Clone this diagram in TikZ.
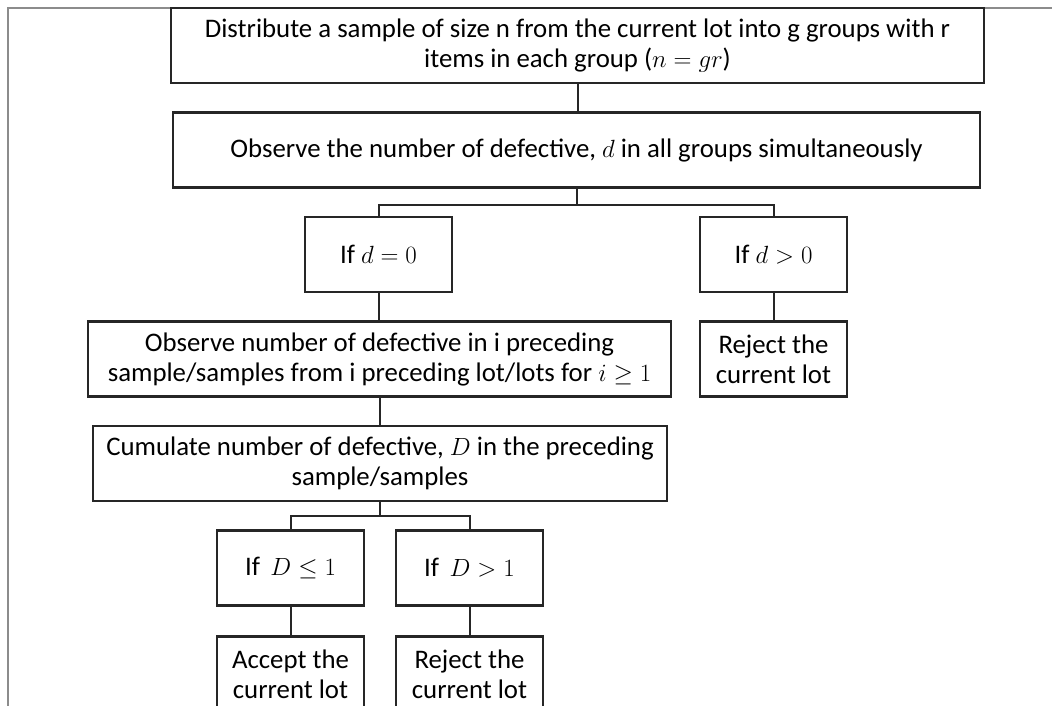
\documentclass[tikz,border=0pt]{standalone}
\usepackage{amsmath}
\usepackage{fontspec}
\setmainfont{Carlito}
\usetikzlibrary{positioning,calc}

\begin{document}
\begin{tikzpicture}[x=1pt, y=-1pt,
                every node/.append style={font=\fontsize{26.8}{30}\selectfont},
                box/.style={draw=black!85, line width=2.3pt, fill=white, align=center,
                    inner sep=0pt, minimum height=75pt},
                small box/.style={box, minimum width=147pt}]
                \clip (0,0) rectangle (1052,706);
                \draw [black!45, line width=2pt] (8,706) -- (8,8) -- (1052,8);
                \node [box, minimum width=813pt] (distribute) at (577.5,45.5)
                    {Distribute a sample of size n from the current lot into g groups with r\\
                     items in each group ($n = gr$)};
                \node [box, minimum width=807pt] (observe) at (576.5,150)
                    {Observe the number of defective, $d$ in all groups simultaneously};
                \node [small box] (dzero) at (378.5,254.5) {If $d = 0$};
                \node [small box] (dpos) at (773.5,254.5) {If $d > 0$};
                \node [box, minimum width=583pt] (preceding) at (379.5,359)
                    {Observe number of defective in i preceding\\
                     sample/samples from i preceding lot/lots for $i \geq 1$};
                \node [small box] (rejectu) at (773.5,359) {Reject the\\current lot};
                \node [box, minimum width=574pt] (cumulate) at (380,463.5)
                    {Cumulate number of defective, $D$ in the preceding\\sample/samples};
                \node [small box] (dle) at (290.5,568) {If \,$D \leq 1$};
                \node [small box] (dgt) at (469.5,568) {If \,$D > 1$};
                \node [small box] (accept) at (290.5,674) {Accept the\\current lot};
                \node [small box] (rejectd) at (469.5,674) {Reject the\\current lot};
                \begin{scope}[black!85, line width=2pt]
                \draw (distribute.south) -- (distribute.south |- observe.north);
                \draw (observe.south) -- ++(0,16) coordinate (forkd);
                \draw (forkd) -| (dzero.north);
                \draw (forkd) -| (dpos.north);
                \draw (dzero.south) -- (dzero.south |- preceding.north);
                \draw (dpos.south) -- (rejectu.north);
                \draw (preceding.south) -- (preceding.south |- cumulate.north);
                \draw (cumulate.south) -- ++(0,14) coordinate (forkD);
                \draw (forkD) -| (dle.north);
                \draw (forkD) -| (dgt.north);
                \draw (dle.south) -- (accept.north);
                \draw (dgt.south) -- (rejectd.north);
                \end{scope}
                \end{tikzpicture}
\end{document}
